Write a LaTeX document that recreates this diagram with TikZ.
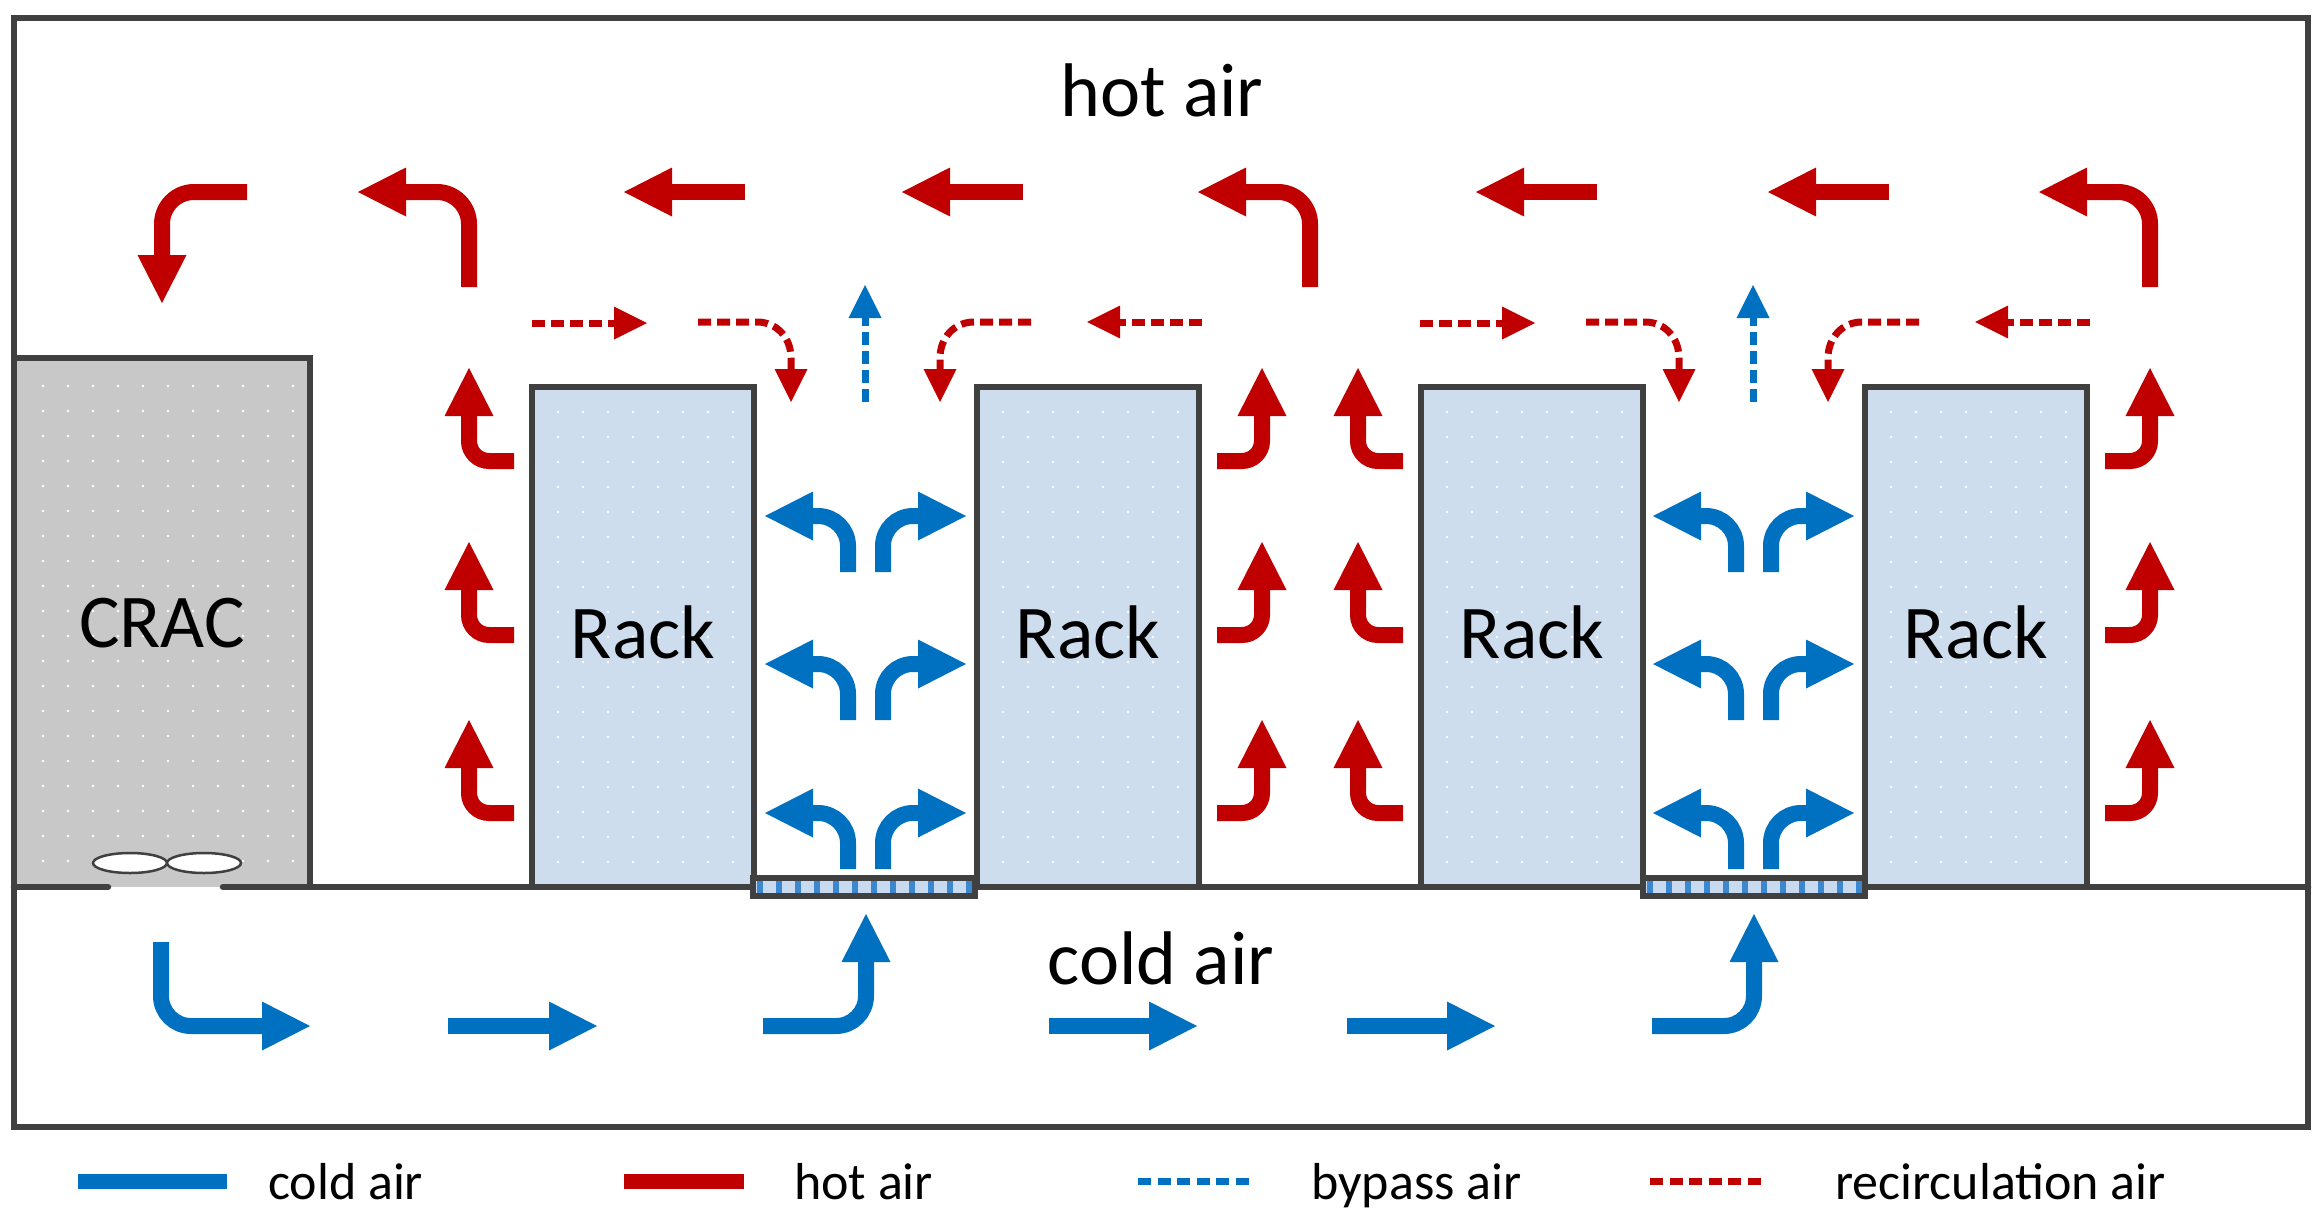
\documentclass[tikz,border=0pt]{standalone}
\usepackage{fontspec}
\setmainfont{Carlito}
\usetikzlibrary{arrows.meta}
\definecolor{hotred}{RGB}{192,0,0}
\definecolor{coldblue}{RGB}{0,112,192}
\definecolor{linegray}{RGB}{64,64,64}
\definecolor{rackfill}{RGB}{206,221,238}
\definecolor{cracfill}{RGB}{200,200,200}
\definecolor{tilebg}{RGB}{200,218,240}
\definecolor{tilestripe}{RGB}{60,135,205}
\begin{document}
\begin{tikzpicture}[x=1pt,y=-1pt,
  wall/.style={draw=linegray,line width=6.5pt},
  hotflow/.style={draw=hotred,line width=16pt,rounded corners=#1,-{Triangle[length=48pt,width=49pt,line width=0pt]}},
  hotflow/.default=20pt,
  coldflow/.style={draw=coldblue,line width=16pt,rounded corners=#1,-{Triangle[length=48pt,width=49pt,line width=0pt]}},
  coldflow/.default=30pt,
  recirc/.style={draw=hotred,line width=7pt,dash pattern=on 13pt off 6pt,-{Triangle[length=33pt,width=33pt,line width=0pt]}},
  bypass/.style={draw=coldblue,line width=7pt,dash pattern=on 13pt off 6pt,-{Triangle[length=33pt,width=33pt,line width=0pt]}},
  bigtext/.style={font=\fontsize{76}{90}\selectfont,inner sep=0pt,anchor=base},
  legtext/.style={font=\fontsize{52}{62}\selectfont,inner sep=0pt,anchor=base west},
  fan/.style={draw=linegray,line width=2.5pt,fill=white},
]
\useasboundingbox (0,0) rectangle (2324,1213);

% CRAC unit
\fill[cracfill] (14,358) rectangle (310,887);
\foreach \i in {0,...,10}{
  \foreach \j in {0,...,19}{
    \fill[white] (43+25*\i,386+25*\j) circle[radius=1.3pt];
  }}
\draw[wall] (14,358) -- (310,358) -- (310,887);

% racks
\foreach \rx in {532,977,1421,1865}{
  \fill[rackfill] (\rx,387) rectangle (\rx+222,887);
  \foreach \i in {0,...,7}{
    \foreach \j in {0,...,18}{
      \fill[white] (\rx+26+25*\i,412+25*\j) circle[radius=1.3pt];
    }}
  \draw[wall] (\rx,887) -- (\rx,387) -- (\rx+222,387) -- (\rx+222,887);
}

% frame and raised floor
\draw[wall] (14,18) rectangle (2308,1127);
\draw[wall,line cap=round] (14,887) -- (108,887);
\draw[wall,line cap=round] (223,887) -- (2308,887);

% perforated tiles
\foreach \tx in {753,1643}{
  \fill[tilebg] (\tx,878) rectangle (\tx+222,896);
  \foreach \k in {0,...,11}{
    \fill[tilestripe] (\tx+4+19*\k,880) rectangle (\tx+10+19*\k,894);
  }
  \draw[draw=linegray,line width=6pt] (\tx,878) rectangle (\tx+222,896);
}

% fans
\draw[fan] (130,863) ellipse [x radius=37, y radius=10];
\draw[fan] (204,863) ellipse [x radius=37, y radius=10];

% hot air return (top)
\draw[hotflow=32pt] (247,192) -- (162,192) -- (162,303);
\draw[hotflow=32pt] (469,287) -- (469,192) -- (358,192);
\draw[hotflow] (745,192) -- (624,192);
\draw[hotflow] (1023,192) -- (902,192);
\draw[hotflow=32pt] (1310,287) -- (1310,192) -- (1198,192);
\draw[hotflow] (1597,192) -- (1476,192);
\draw[hotflow] (1889,192) -- (1768,192);
\draw[hotflow=32pt] (2150,287) -- (2150,192) -- (2039,192);

% hot exhaust behind racks
\foreach \h in {461,635,813}{
  \draw[hotflow] (514,\h) -- (469,\h) -- (469,\h-93);
  \draw[hotflow] (1217,\h) -- (1262,\h) -- (1262,\h-93);
  \draw[hotflow] (1403,\h) -- (1358,\h) -- (1358,\h-93);
  \draw[hotflow] (2105,\h) -- (2150,\h) -- (2150,\h-93);
}

% cold aisles
\foreach \o in {0,888}{
  \foreach \h in {516,664,813}{
    \draw[coldflow] (848+\o,\h+56) -- (848+\o,\h) -- (765+\o,\h);
    \draw[coldflow] (883+\o,\h+56) -- (883+\o,\h) -- (966+\o,\h);
  }
  % recirculation and bypass
  \draw[recirc] (532+\o,323) -- (647+\o,323);
  \draw[recirc] (698+\o,322) -- (757+\o,322) .. controls (777+\o,322) and (791+\o,338) .. (791+\o,358) -- (791+\o,402);
  \draw[bypass] (865+\o,402) -- (865+\o,285);
  \draw[recirc] (1031+\o,322) -- (974+\o,322) .. controls (954+\o,322) and (940+\o,338) .. (940+\o,358) -- (940+\o,402);
  \draw[recirc] (1202+\o,322) -- (1087+\o,322);
}

% cold air under the floor
\draw[coldflow] (161,942) -- (161,1026) -- (310,1026);
\draw[coldflow] (448,1026) -- (597,1026);
\draw[coldflow] (763,1026) -- (866,1026) -- (866,914);
\draw[coldflow] (1049,1026) -- (1197,1026);
\draw[coldflow] (1347,1026) -- (1495,1026);
\draw[coldflow] (1652,1026) -- (1754,1026) -- (1754,914);

% labels
\node[bigtext] (hot) at (1162,116) {hot air};
\node[bigtext] (cold) at (1161,984) {cold air};
\node[bigtext] (crac) at (162,647) {CRAC};
\node[bigtext] (rackA) at (643,658) {Rack};
\node[bigtext] (rackB) at (1088,658) {Rack};
\node[bigtext] (rackC) at (1532,658) {Rack};
\node[bigtext] (rackD) at (1976,658) {Rack};

% legend
\draw[coldblue,line width=15pt] (78,1181) -- (227,1181);
\node[legtext] (lcold) at (268,1199) {cold air};
\draw[hotred,line width=15pt] (624,1181) -- (744,1181);
\node[legtext] (lhot) at (794,1199) {hot air};
\draw[coldblue,line width=7pt,dash pattern=on 13pt off 6.5pt] (1138,1181) -- (1252,1181);
\node[legtext] (lbypass) at (1311,1199) {bypass air};
\draw[hotred,line width=7pt,dash pattern=on 13pt off 6.5pt] (1650,1181) -- (1764,1181);
\node[legtext] (lrecirc) at (1835,1199) {recirculation air};
\end{tikzpicture}
\end{document}
